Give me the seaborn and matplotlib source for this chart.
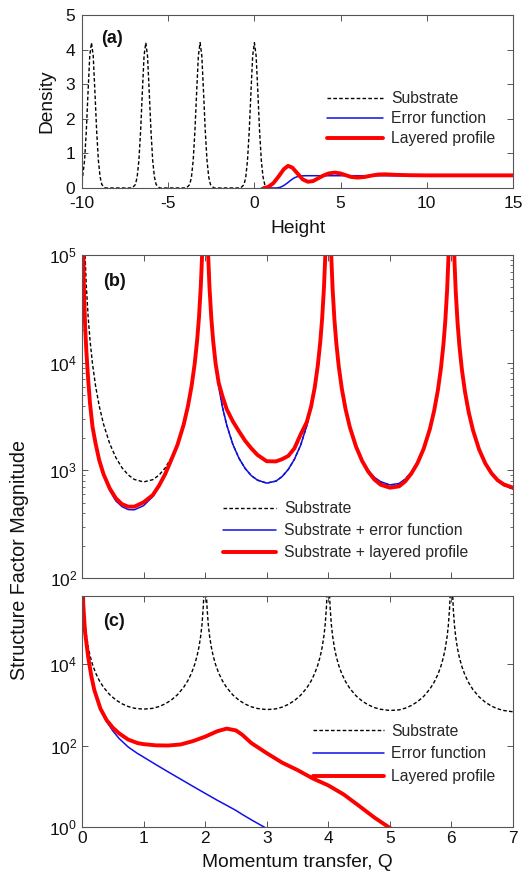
import matplotlib
matplotlib.use('Agg')
import matplotlib.pyplot as plt
import seaborn as sns
from matplotlib.ticker import FixedLocator, LogLocator, NullLocator, NullFormatter, LogFormatterMathtext

sns.set_theme(style='ticks')
plt.rcParams['font.family'] = ['Liberation Sans', 'DejaVu Sans']
plt.rcParams['mathtext.fontset'] = 'custom'
plt.rcParams['mathtext.rm'] = 'Liberation Sans'
plt.rcParams['mathtext.it'] = 'Liberation Sans:italic'
plt.rcParams['mathtext.bf'] = 'Liberation Sans:bold'
plt.rcParams['axes.unicode_minus'] = False

# ---------------- panel (a): density profiles ----------------
height_sub = [-10.0, -9.85, -9.75, -9.65, -9.55, -9.45, -9.35, -9.25, -9.15, -9.05, -8.95, -8.85, -8.65,
              -7.1, -6.9, -6.8, -6.7, -6.6, -6.5, -6.4, -6.3, -6.2, -6.1, -6.0, -5.9, -5.8, -5.7, -5.5,
              -3.95, -3.75, -3.65, -3.55, -3.45, -3.35, -3.25, -3.15, -3.05, -2.95, -2.85, -2.75, -2.65, -2.55, -2.35,
              -0.8, -0.6, -0.5, -0.4, -0.3, -0.2, -0.1, 0.0, 0.1, 0.2, 0.3, 0.4, 0.5, 0.6, 0.8]
dens_sub = [0.18, 0.8, 1.65, 2.77, 3.82, 4.2, 3.82, 2.77, 1.65, 0.8, 0.32, 0.1, 0.0,
            0.0, 0.1, 0.32, 0.8, 1.65, 2.77, 3.82, 4.2, 3.82, 2.77, 1.65, 0.8, 0.32, 0.1, 0.0,
            0.0, 0.1, 0.32, 0.8, 1.65, 2.77, 3.82, 4.2, 3.82, 2.77, 1.65, 0.8, 0.32, 0.1, 0.0,
            0.0, 0.1, 0.32, 0.8, 1.65, 2.77, 3.82, 4.2, 3.82, 2.77, 1.65, 0.8, 0.32, 0.1, 0.0]

height_erf = [0.4, 1.3, 1.5, 1.7, 1.9, 2.1, 2.3, 2.5, 2.7, 3.0, 15.0]
dens_erf = [0.0, 0.0, 0.02, 0.07, 0.14, 0.22, 0.29, 0.33, 0.35, 0.355, 0.355]

height_lay = [0.55, 0.8, 1.1, 1.4, 1.7, 1.95, 2.2, 2.5, 2.8, 3.1, 3.4, 3.7, 4.0, 4.3, 4.65, 5.0, 5.3,
              5.6, 6.0, 6.4, 6.8, 7.2, 7.6, 8.2, 9.0, 10.0, 12.0, 15.0]
dens_lay = [0.0, 0.03, 0.14, 0.33, 0.54, 0.64, 0.59, 0.42, 0.25, 0.18, 0.2, 0.28, 0.36, 0.42, 0.445, 0.42, 0.37,
            0.32, 0.3, 0.32, 0.36, 0.39, 0.395, 0.38, 0.37, 0.365, 0.365, 0.365]

# ---------------- panels (b), (c): structure factors ----------------
q_grid = [0.005, 0.01, 0.02, 0.03, 0.05, 0.07, 0.1, 0.13, 0.17, 0.22, 0.28, 0.35, 0.45, 0.55, 0.65, 0.75, 0.85, 1.0,
          1.15, 1.25, 1.35, 1.45, 1.55, 1.65, 1.72, 1.78, 1.83, 1.87, 1.9, 1.93, 1.95, 1.97, 1.98, 1.99, 1.995,
          2.005, 2.01, 2.02, 2.03, 2.05, 2.07, 2.1, 2.13, 2.17, 2.22, 2.28, 2.35, 2.45, 2.55, 2.65, 2.75, 2.85, 3.0,
          3.15, 3.25, 3.35, 3.45, 3.55, 3.65, 3.72, 3.78, 3.83, 3.87, 3.9, 3.93, 3.95, 3.97, 3.98, 3.99, 3.995,
          4.005, 4.01, 4.02, 4.03, 4.05, 4.07, 4.1, 4.13, 4.17, 4.22, 4.28, 4.35, 4.45, 4.55, 4.65, 4.75, 4.85, 5.0,
          5.15, 5.25, 5.35, 5.45, 5.55, 5.65, 5.72, 5.78, 5.83, 5.87, 5.9, 5.93, 5.95, 5.97, 5.98, 5.99, 5.995,
          6.005, 6.01, 6.02, 6.03, 6.05, 6.07, 6.1, 6.13, 6.17, 6.22, 6.28, 6.35, 6.45, 6.55, 6.65, 6.75, 6.85, 7.0]

sf_substrate = [7.8e6, 2.09e6, 5.59e5, 2.59e5, 98200, 51900, 26500, 16200, 9800, 6100, 3950, 2680, 1770, 1313, 1056, 907, 823, 780,
                819, 902, 1051, 1306, 1761, 2667, 3930, 6070, 9750, 16120, 26370, 51640, 97710, 2.58e5, 5.56e5, 2.08e6, 7.76e6,
                7.68e6, 2.06e6, 5.51e5, 2.55e5, 96700, 51100, 26100, 15960, 9650, 6010, 3890, 2640, 1743, 1293, 1040, 893, 811, 761,
                794, 875, 1019, 1267, 1708, 2586, 3812, 5887, 9457, 15630, 25570, 50080, 94760, 2.5e5, 5.39e5, 2.02e6, 7.53e6,
                7.33e6, 1.96e6, 5.25e5, 2.43e5, 92300, 48800, 24900, 15230, 9212, 5734, 3713, 2519, 1664, 1234, 993, 853, 774, 725,
                749, 825, 961, 1195, 1611, 2439, 3595, 5551, 8918, 14740, 24120, 47230, 89360, 2.36e5, 5.09e5, 1.9e6, 7.1e6,
                6.86e6, 1.84e6, 4.92e5, 2.28e5, 86400, 45700, 23300, 14260, 8624, 5368, 3476, 2358, 1558, 1155, 929, 798, 724, 672]

sf_sub_erf = [2e6, 5e5, 1.2e5, 55000, 22000, 13000, 7000, 4200, 2550, 1780, 1230, 900, 650, 520, 460, 432, 430, 470,
              570, 700, 900, 1240, 1720, 2640, 3930, 6070, 9750, 16120, 26370, 51640, 97710, 2.58e5, 5.56e5, 2.08e6, 7.76e6,
              7.68e6, 2.06e6, 5.51e5, 2.55e5, 96700, 51100, 26100, 15960, 9650, 6010, 3890, 2640, 1743, 1293, 1040, 893, 811, 761,
              794, 875, 1019, 1267, 1708, 2586, 3812, 5887, 9457, 15630, 25570, 50080, 94760, 2.5e5, 5.39e5, 2.02e6, 7.53e6,
              7.33e6, 1.96e6, 5.25e5, 2.43e5, 92300, 48800, 24900, 15230, 9212, 5734, 3713, 2519, 1664, 1240, 1000, 860, 785, 733,
              755, 830, 965, 1195, 1611, 2439, 3595, 5551, 8918, 14740, 24120, 47230, 89360, 2.36e5, 5.09e5, 1.9e6, 7.1e6,
              6.86e6, 1.84e6, 4.92e5, 2.28e5, 86400, 45700, 23300, 14260, 8624, 5368, 3476, 2358, 1558, 1155, 929, 798, 724, 672]

sf_sub_layer = [2e6, 5e5, 1.2e5, 55000, 22000, 13000, 7000, 4200, 2550, 1780, 1240, 920, 680, 550, 485, 460, 460, 505,
                590, 720, 920, 1250, 1720, 2640, 3930, 6070, 9750, 16120, 26370, 51640, 97710, 2.58e5, 5.56e5, 2.08e6, 7.76e6,
                7.68e6, 2.06e6, 5.51e5, 2.55e5, 96700, 51100, 26100, 15960, 9800, 6500, 4900, 3700, 2850, 2300, 1880, 1600, 1390, 1215,
                1210, 1270, 1360, 1600, 2150, 2800, 3900, 5887, 9457, 15630, 25570, 50080, 94760, 2.5e5, 5.39e5, 2.02e6, 7.53e6,
                7.33e6, 1.96e6, 5.25e5, 2.43e5, 92300, 48800, 24900, 15230, 9212, 5734, 3713, 2519, 1664, 1220, 970, 820, 735, 690,
                710, 790, 935, 1170, 1590, 2420, 3595, 5551, 8918, 14740, 24120, 47230, 89360, 2.36e5, 5.09e5, 1.9e6, 7.1e6,
                6.86e6, 1.84e6, 4.92e5, 2.28e5, 86400, 45700, 23300, 14260, 8624, 5368, 3476, 2358, 1558, 1160, 940, 810, 740, 690]

q_film = [0.005, 0.02, 0.05, 0.1, 0.15, 0.2, 0.3, 0.4, 0.5, 0.6, 0.75, 0.9, 1.0, 1.2, 1.4, 1.6, 1.8, 2.0, 2.2,
          2.35, 2.5, 2.6, 2.75, 3.0, 3.25, 3.5, 3.75, 4.0, 4.25, 4.5, 4.75, 5.0, 5.2]
sf_erf = [5e6, 3e5, 60000, 15000, 5200, 2300, 790, 385, 230, 150, 92, 64, 52, 34, 22.5, 15, 10, 6.7, 4.5,
          3.4, 2.55, 2.05, 1.5, 0.92, 0.56, 0.34, 0.21, 0.13, 0.08, 0.05, 0.03, 0.018, 0.012]
sf_layer = [5e6, 3e5, 60000, 15000, 5200, 2300, 800, 420, 275, 200, 140, 115, 108, 101, 100, 106, 128, 165, 225,
            260, 235, 185, 115, 65, 38, 25, 15.5, 10.5, 6.3, 3.3, 1.7, 0.95, 0.6]

# ---------------- styling ----------------
BLACK_DASH = (0, (2.6, 1.6))
C_BLUE = '#1010e8'
C_RED = '#ff0000'
SPINE = '#555555'
TXT = '#111111'

W, H = 523, 877
fig = plt.figure(figsize=(W / 100, H / 100), dpi=100)
fig.patch.set_facecolor('white')
axA = fig.add_axes([82 / W, 1 - 188 / H, 431 / W, 173 / H])
axB = fig.add_axes([82 / W, 1 - 578 / H, 431 / W, 323 / H])
axC = fig.add_axes([82 / W, 1 - 827 / H, 431 / W, 231 / H])


def style(ax, xpad=3.5, ypad=3.5):
    ax.set_facecolor('white')
    for s in ax.spines.values():
        s.set_visible(True)
        s.set_color(SPINE)
        s.set_linewidth(0.8)
    ax.tick_params(which='both', direction='in', top=True, right=True, color=SPINE,
                   labelcolor=TXT, labelsize=12.5)
    ax.tick_params(axis='x', which='both', pad=xpad)
    ax.tick_params(axis='y', which='both', pad=ypad)
    ax.tick_params(which='major', length=4, width=0.7)
    ax.tick_params(which='minor', length=2.2, width=0.6)
    ax.grid(False)


LEG_FS = 11.3

# panel (a)
sns.lineplot(x=height_sub, y=dens_sub, ax=axA, color='black', linewidth=1.0,
             linestyle=BLACK_DASH, label='Substrate', sort=False)
sns.lineplot(x=height_erf, y=dens_erf, ax=axA, color=C_BLUE, linewidth=1.1,
             label='Error function', sort=False)
sns.lineplot(x=height_lay, y=dens_lay, ax=axA, color=C_RED, linewidth=2.8,
             label='Layered profile', sort=False)
axA.set_xlim(-10, 15)
axA.set_ylim(0, 5)
axA.xaxis.set_major_locator(FixedLocator([-10, -5, 0, 5, 10, 15]))
axA.yaxis.set_major_locator(FixedLocator([0, 1, 2, 3, 4, 5]))
style(axA, xpad=5.6, ypad=5.0)
axA.set_xlabel('Height', fontsize=13.8, color=TXT, labelpad=6.5)
axA.set_ylabel('Density', fontsize=13.8, color=TXT, labelpad=7)
axA.text(0.045, 0.915, '(a)', transform=axA.transAxes, fontsize=13, fontweight='bold', va='top', color=TXT)
axA.legend(loc='upper left', bbox_to_anchor=(0.568, 0.56), frameon=False, fontsize=LEG_FS,
           handlelength=3.6, handletextpad=0.5, labelspacing=0.33, borderpad=0, borderaxespad=0)

# panel (b)
sns.lineplot(x=q_grid, y=sf_substrate, ax=axB, color='black', linewidth=1.0,
             linestyle=BLACK_DASH, label='Substrate', sort=False)
sns.lineplot(x=q_grid, y=sf_sub_erf, ax=axB, color=C_BLUE, linewidth=1.1,
             label='Substrate + error function', sort=False)
sns.lineplot(x=q_grid, y=sf_sub_layer, ax=axB, color=C_RED, linewidth=2.8,
             label='Substrate + layered profile', sort=False)
axB.set_yscale('log')
axB.set_xlim(0, 7)
axB.set_ylim(1e2, 1e5)
axB.xaxis.set_major_locator(FixedLocator(list(range(8))))
axB.xaxis.set_major_formatter(NullFormatter())
axB.yaxis.set_major_locator(FixedLocator([1e2, 1e3, 1e4, 1e5]))
axB.yaxis.set_major_formatter(LogFormatterMathtext())
axB.yaxis.set_minor_locator(LogLocator(base=10, subs=[2, 3, 4, 5, 6, 7, 8, 9]))
axB.yaxis.set_minor_formatter(NullFormatter())
style(axB)
axB.set_xlabel('')
axB.set_ylabel('')
axB.text(0.049, 0.945, '(b)', transform=axB.transAxes, fontsize=13, fontweight='bold', va='top', color=TXT)
axB.legend(loc='upper left', bbox_to_anchor=(0.327, 0.238), frameon=False, fontsize=LEG_FS,
           handlelength=3.4, handletextpad=0.5, labelspacing=0.45, borderpad=0, borderaxespad=0)

# panel (c)
sns.lineplot(x=q_grid, y=sf_substrate, ax=axC, color='black', linewidth=1.0,
             linestyle=BLACK_DASH, label='Substrate', sort=False)
sns.lineplot(x=q_film, y=sf_erf, ax=axC, color=C_BLUE, linewidth=1.1,
             label='Error function', sort=False)
sns.lineplot(x=q_film, y=sf_layer, ax=axC, color=C_RED, linewidth=2.8,
             label='Layered profile', sort=False)
axC.set_yscale('log')
axC.set_xlim(0, 7)
axC.set_ylim(1, 10 ** 5.67)
axC.xaxis.set_major_locator(FixedLocator(list(range(8))))
axC.yaxis.set_major_locator(FixedLocator([1, 1e2, 1e4]))
axC.yaxis.set_major_formatter(LogFormatterMathtext())
axC.yaxis.set_minor_locator(NullLocator())
style(axC, xpad=2.8)
axC.set_xlabel('Momentum transfer, Q', fontsize=13.8, color=TXT, labelpad=6)
axC.set_ylabel('')
axC.text(0.049, 0.925, '(c)', transform=axC.transAxes, fontsize=13, fontweight='bold', va='top', color=TXT)
axC.legend(loc='upper left', bbox_to_anchor=(0.536, 0.447), frameon=False, fontsize=LEG_FS,
           handlelength=4.5, handletextpad=0.5, labelspacing=0.49, borderpad=0, borderaxespad=0)

fig.text(20 / W, 1 - 560 / H, 'Structure Factor Magnitude', rotation=90, ha='center', va='center',
         fontsize=14.2, color=TXT)

fig.savefig('out.png', dpi=100, facecolor='white')
